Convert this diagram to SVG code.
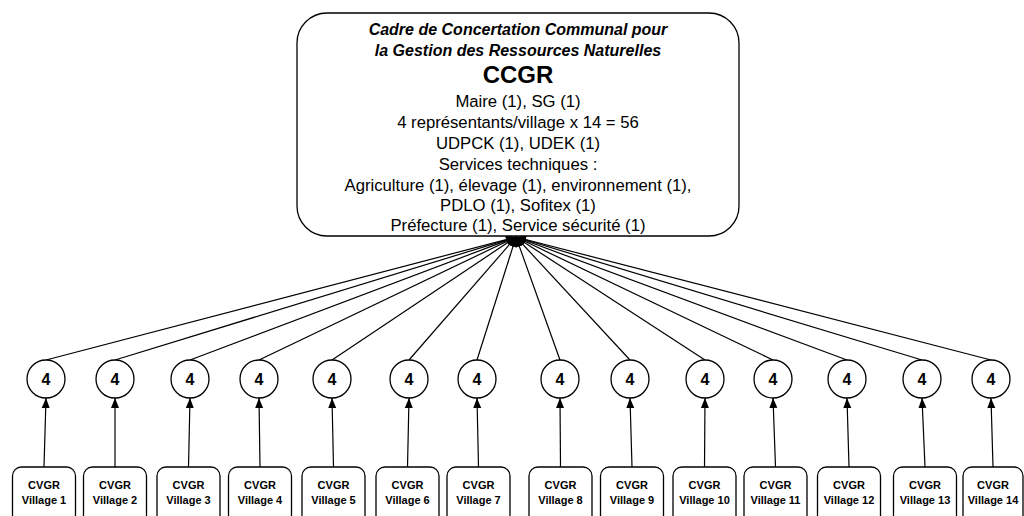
<svg xmlns="http://www.w3.org/2000/svg" width="1024" height="516" viewBox="0 0 1024 516">
<style>
.box{fill:#fff;stroke:#000;stroke-width:1.3}
.t{font-family:"Liberation Sans",Arial,sans-serif;text-anchor:middle;fill:#000}
.n{font-size:16.7px}
.vb{font-size:11px;font-weight:bold}
.c4{font-size:16px;font-weight:bold}
.ln{stroke:#000;stroke-width:1.2;fill:none}
</style>
<defs>
<marker id="ah" markerUnits="userSpaceOnUse" markerWidth="10" markerHeight="10" viewBox="0 0 10 10" refX="10" refY="5" orient="auto">
<path d="M0,1 L10,5 L0,9 Z" fill="#000"/>
</marker>
</defs>
<rect width="1024" height="516" fill="#fff"/>
<g id="connectors">
<line class="ln" x1="46" y1="360" x2="516" y2="237" marker-end="url(#ah)"/>
<line class="ln" x1="115" y1="360" x2="516" y2="237" marker-end="url(#ah)"/>
<line class="ln" x1="190" y1="360" x2="516" y2="237" marker-end="url(#ah)"/>
<line class="ln" x1="259" y1="360" x2="516" y2="237" marker-end="url(#ah)"/>
<line class="ln" x1="332" y1="360" x2="516" y2="237" marker-end="url(#ah)"/>
<line class="ln" x1="409" y1="360" x2="516" y2="237" marker-end="url(#ah)"/>
<line class="ln" x1="477" y1="360" x2="516" y2="237" marker-end="url(#ah)"/>
<line class="ln" x1="560" y1="360" x2="516" y2="237" marker-end="url(#ah)"/>
<line class="ln" x1="630" y1="360" x2="516" y2="237" marker-end="url(#ah)"/>
<line class="ln" x1="705" y1="360" x2="516" y2="237" marker-end="url(#ah)"/>
<line class="ln" x1="773" y1="360" x2="516" y2="237" marker-end="url(#ah)"/>
<line class="ln" x1="847" y1="360" x2="516" y2="237" marker-end="url(#ah)"/>
<line class="ln" x1="922" y1="360" x2="516" y2="237" marker-end="url(#ah)"/>
<line class="ln" x1="991" y1="360" x2="516" y2="237" marker-end="url(#ah)"/>
<line class="ln" x1="44" y1="467" x2="46" y2="398" marker-end="url(#ah)"/>
<line class="ln" x1="115" y1="467" x2="115" y2="398" marker-end="url(#ah)"/>
<line class="ln" x1="188.5" y1="467" x2="190" y2="398" marker-end="url(#ah)"/>
<line class="ln" x1="260" y1="467" x2="259" y2="398" marker-end="url(#ah)"/>
<line class="ln" x1="333.5" y1="467" x2="332" y2="398" marker-end="url(#ah)"/>
<line class="ln" x1="407.5" y1="467" x2="409" y2="398" marker-end="url(#ah)"/>
<line class="ln" x1="478.5" y1="467" x2="477" y2="398" marker-end="url(#ah)"/>
<line class="ln" x1="560.5" y1="467" x2="560" y2="398" marker-end="url(#ah)"/>
<line class="ln" x1="632" y1="467" x2="630" y2="398" marker-end="url(#ah)"/>
<line class="ln" x1="704.5" y1="467" x2="705" y2="398" marker-end="url(#ah)"/>
<line class="ln" x1="775.5" y1="467" x2="773" y2="398" marker-end="url(#ah)"/>
<line class="ln" x1="849" y1="467" x2="847" y2="398" marker-end="url(#ah)"/>
<line class="ln" x1="925" y1="467" x2="922" y2="398" marker-end="url(#ah)"/>
<line class="ln" x1="993" y1="467" x2="991" y2="398" marker-end="url(#ah)"/>
</g>
<g id="ccgr">
<rect class="box" x="297" y="13" width="442" height="223" rx="30" ry="30"/>
<text class="t" x="518" y="35" font-size="16px" font-weight="bold" font-style="italic">Cadre de Concertation Communal pour</text>
<text class="t" x="518" y="56" font-size="16px" font-weight="bold" font-style="italic">la Gestion des Ressources Naturelles</text>
<text class="t" x="518" y="83" font-size="24px" font-weight="bold">CCGR</text>
<text class="t n" x="518" y="107">Maire (1), SG (1)</text>
<text class="t n" x="518" y="128">4 représentants/village x 14 = 56</text>
<text class="t n" x="518" y="149">UDPCK (1), UDEK (1)</text>
<text class="t n" x="518" y="170">Services techniques :</text>
<text class="t n" x="518" y="191">Agriculture (1), élevage (1), environnement (1),</text>
<text class="t n" x="518" y="211">PDLO (1), Sofitex (1)</text>
<text class="t n" x="518" y="231">Préfecture (1), Service sécurité (1)</text>
</g>
<g id="c1"><circle class="box" cx="46" cy="379" r="19"/><text class="t c4" x="46" y="385">4</text></g>
<g id="c2"><circle class="box" cx="115" cy="379" r="19"/><text class="t c4" x="115" y="385">4</text></g>
<g id="c3"><circle class="box" cx="190" cy="379" r="19"/><text class="t c4" x="190" y="385">4</text></g>
<g id="c4"><circle class="box" cx="259" cy="379" r="19"/><text class="t c4" x="259" y="385">4</text></g>
<g id="c5"><circle class="box" cx="332" cy="379" r="19"/><text class="t c4" x="332" y="385">4</text></g>
<g id="c6"><circle class="box" cx="409" cy="379" r="19"/><text class="t c4" x="409" y="385">4</text></g>
<g id="c7"><circle class="box" cx="477" cy="379" r="19"/><text class="t c4" x="477" y="385">4</text></g>
<g id="c8"><circle class="box" cx="560" cy="379" r="19"/><text class="t c4" x="560" y="385">4</text></g>
<g id="c9"><circle class="box" cx="630" cy="379" r="19"/><text class="t c4" x="630" y="385">4</text></g>
<g id="c10"><circle class="box" cx="705" cy="379" r="19"/><text class="t c4" x="705" y="385">4</text></g>
<g id="c11"><circle class="box" cx="773" cy="379" r="19"/><text class="t c4" x="773" y="385">4</text></g>
<g id="c12"><circle class="box" cx="847" cy="379" r="19"/><text class="t c4" x="847" y="385">4</text></g>
<g id="c13"><circle class="box" cx="922" cy="379" r="19"/><text class="t c4" x="922" y="385">4</text></g>
<g id="c14"><circle class="box" cx="991" cy="379" r="19"/><text class="t c4" x="991" y="385">4</text></g>
<g id="v1"><rect class="box" x="12.5" y="467" width="63" height="64" rx="9"/><text class="t vb" x="44" y="489">CVGR</text><text class="t vb" x="44" y="504">Village 1</text></g>
<g id="v2"><rect class="box" x="83.5" y="467" width="63" height="64" rx="9"/><text class="t vb" x="115" y="489">CVGR</text><text class="t vb" x="115" y="504">Village 2</text></g>
<g id="v3"><rect class="box" x="157" y="467" width="63" height="64" rx="9"/><text class="t vb" x="188.5" y="489">CVGR</text><text class="t vb" x="188.5" y="504">Village 3</text></g>
<g id="v4"><rect class="box" x="228.5" y="467" width="63" height="64" rx="9"/><text class="t vb" x="260" y="489">CVGR</text><text class="t vb" x="260" y="504">Village 4</text></g>
<g id="v5"><rect class="box" x="302" y="467" width="63" height="64" rx="9"/><text class="t vb" x="333.5" y="489">CVGR</text><text class="t vb" x="333.5" y="504">Village 5</text></g>
<g id="v6"><rect class="box" x="376" y="467" width="63" height="64" rx="9"/><text class="t vb" x="407.5" y="489">CVGR</text><text class="t vb" x="407.5" y="504">Village 6</text></g>
<g id="v7"><rect class="box" x="447" y="467" width="63" height="64" rx="9"/><text class="t vb" x="478.5" y="489">CVGR</text><text class="t vb" x="478.5" y="504">Village 7</text></g>
<g id="v8"><rect class="box" x="529" y="467" width="63" height="64" rx="9"/><text class="t vb" x="560.5" y="489">CVGR</text><text class="t vb" x="560.5" y="504">Village 8</text></g>
<g id="v9"><rect class="box" x="600.5" y="467" width="63" height="64" rx="9"/><text class="t vb" x="632" y="489">CVGR</text><text class="t vb" x="632" y="504">Village 9</text></g>
<g id="v10"><rect class="box" x="673" y="467" width="63" height="64" rx="9"/><text class="t vb" x="704.5" y="489">CVGR</text><text class="t vb" x="704.5" y="504">Village 10</text></g>
<g id="v11"><rect class="box" x="744" y="467" width="63" height="64" rx="9"/><text class="t vb" x="775.5" y="489">CVGR</text><text class="t vb" x="775.5" y="504">Village 11</text></g>
<g id="v12"><rect class="box" x="817.5" y="467" width="63" height="64" rx="9"/><text class="t vb" x="849" y="489">CVGR</text><text class="t vb" x="849" y="504">Village 12</text></g>
<g id="v13"><rect class="box" x="893.5" y="467" width="63" height="64" rx="9"/><text class="t vb" x="925" y="489">CVGR</text><text class="t vb" x="925" y="504">Village 13</text></g>
<g id="v14"><rect class="box" x="963" y="467" width="60" height="64" rx="9"/><text class="t vb" x="993" y="489">CVGR</text><text class="t vb" x="993" y="504">Village 14</text></g>
</svg>
